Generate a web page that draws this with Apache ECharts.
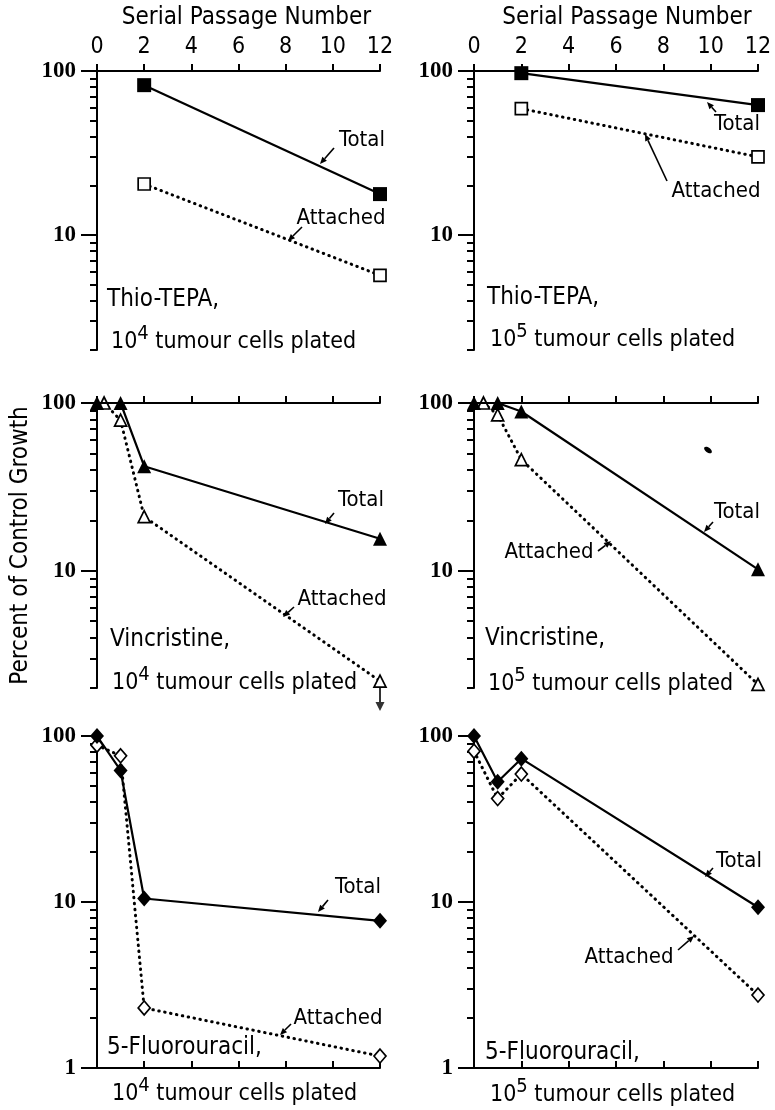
<!DOCTYPE html>
<html>
<head>
<meta charset="utf-8">
<script src="https://cdn.jsdelivr.net/npm/echarts@6/dist/echarts.min.js"></script>
<style>
html, body { margin: 0; padding: 0; background: #fff; }
#chart { width: 775px; height: 1110px; }
</style>
</head>
<body>
<div id="chart"></div>
<script>
// values: percent of control growth vs serial passage number
const passageTicks = [0, 2, 4, 6, 8, 10, 12];
const yMajorTicks = [1, 10, 100];
const yMinorTicks = [2, 3, 4, 5, 6, 7, 8, 9, 20, 30, 40, 50, 60, 70, 80, 90];

const drugNames = ['Thio-TEPA,', 'Thio-TEPA,', 'Vincristine,', 'Vincristine,', '5-Fluorouracil,', '5-Fluorouracil,'];
const cellsExponent = ['4', '5', '4', '5', '4', '5'];

const thio4Total = [[2, 82], [12, 17.8]];
const thio4Attached = [[2, 20.5], [12, 5.7]];
const thio5Total = [[2, 97], [12, 62]];
const thio5Attached = [[2, 59], [12, 30]];
const vinc4Total = [[0, 100], [1, 100], [2, 42], [12, 15.5]];
const vinc4Attached = [[0.3, 100], [1, 79], [2, 21], [12, 2.2]];
const vinc4UpperBound = [[12, 2.2]];
const vinc5Total = [[0, 100], [1, 100], [2, 89], [12, 10.2]];
const vinc5Attached = [[0.4, 100], [1, 85], [2, 46], [12, 2.1]];
const fu4Total = [[0, 100], [1, 62], [2, 10.5], [12, 7.7]];
const fu4Attached = [[0, 88], [1, 76], [2, 2.3], [12, 1.18]];
const fu5Total = [[0, 100], [1, 53], [2, 73], [12, 9.3]];
const fu5Attached = [[0, 81], [1, 42], [2, 59], [12, 2.75]];

const FONT = '"DejaVu Sans Condensed", "DejaVu Sans", sans-serif';
const SERIF = '"Liberation Serif", "DejaVu Serif", serif';

// layout
const cols = [{ left: 97, width: 283 }, { left: 474, width: 284 }];
const rows = [
  { top: 71, height: 279, min: 2 },
  { top: 403, height: 285, min: 2 },
  { top: 736, height: 332, min: 1 }
];
const totals = [thio4Total, thio5Total, vinc4Total, vinc5Total, fu4Total, fu5Total];
const attacheds = [thio4Attached, thio5Attached, vinc4Attached, vinc5Attached, fu4Attached, fu5Attached];
const symbols = ['rect', 'triangle', 'diamond'];
const filledSize = [14, 14, [14, 16]];
const openSize = [12, 12, [12, 14]];

// annotation positions (px)
const totalLabelPos = [[362, 140], [737, 124], [361, 500], [737, 512], [358, 887], [739, 861]];
const attachedLabelPos = [[341, 218], [716, 191], [342, 599], [549, 552], [338, 1018], [629, 957]];
const totalArrows = [[334, 148, 320, 164], [716, 112, 707, 102], [334, 513, 325, 524], [713, 522, 704, 532], [328, 900, 318, 912], [713, 868, 705, 877]];
const attachedArrows = [[302, 227, 288, 241], [667, 181, 645, 134], [294, 607, 283, 617], [598, 551, 611, 541], [291, 1024, 280, 1035], [678, 950, 694, 936]];
const drugLabelPos = [[107, 300], [487, 298], [110, 640], [485, 639], [107, 1048], [485, 1053]];
const platedLabelPos = [[111, 342], [490, 340], [112, 683], [488, 684], [112, 1094], [490, 1095]];

const chart = echarts.init(document.getElementById('chart'));

const grid = [], xAxis = [], yAxis = [], series = [];
for (let i = 0; i < 6; i++) {
  const r = Math.floor(i / 2), c = i % 2;
  const row = rows[r], col = cols[c];
  grid.push({ left: col.left, top: row.top, width: col.width, height: row.height });

  xAxis.push({
    type: 'value', gridIndex: i, position: 'top', min: 0, max: 12, interval: 2,
    name: r === 0 ? 'Serial Passage Number' : '',
    nameLocation: 'middle', nameGap: 41,
    nameTextStyle: { fontFamily: FONT, fontSize: 24, color: '#000', padding: [0, 0, 0, c === 0 ? 16 : 22] },
    axisLine: { lineStyle: { color: '#000', width: 2 } },
    axisTick: { length: 7, lineStyle: { color: '#000', width: 2 } },
    axisLabel: { show: r === 0, margin: 12, fontFamily: FONT, fontSize: 23, color: '#000' },
    splitLine: { show: false }
  });

  const lo = Math.log10(row.min);
  const majors = yMajorTicks.filter(v => v >= row.min).map(v => Math.log10(v));
  const minors = yMinorTicks.filter(v => v >= row.min).map(v => Math.log10(v));
  // data axis (log), hidden
  yAxis.push({ type: 'log', logBase: 10, gridIndex: i, min: row.min, max: 100, show: false });
  // major ticks + labels, drawn in log10 units
  yAxis.push({
    type: 'value', gridIndex: i, position: 'left', min: lo, max: 2,
    name: i === 2 ? 'Percent of Control Growth' : '',
    nameLocation: 'middle', nameGap: 64, nameRotate: 90,
    nameTextStyle: { fontFamily: FONT, fontSize: 24, color: '#000' },
    axisLine: { show: true, lineStyle: { color: '#000', width: 2 } },
    axisTick: { show: true, length: 16, customValues: majors, lineStyle: { color: '#000', width: 2 } },
    axisLabel: {
      show: true, margin: 21, fontFamily: SERIF, fontWeight: 'bold', fontSize: 23, color: '#000',
      customValues: majors,
      formatter: v => String(Math.round(Math.pow(10, v)))
    },
    splitLine: { show: false }
  });
  yAxis.push({
    type: 'value', gridIndex: i, position: 'left', min: lo, max: 2,
    axisLine: { show: false },
    axisTick: { show: true, length: 7, customValues: minors, lineStyle: { color: '#000', width: 2 } },
    axisLabel: { show: false },
    splitLine: { show: false }
  });

  series.push({
    type: 'line', xAxisIndex: i, yAxisIndex: 3 * i, data: attacheds[i], clip: false, silent: true,
    symbol: symbols[r], symbolSize: openSize[r],
    lineStyle: { color: '#000', width: 3, type: [0.5, 5.5], cap: 'round' },
    itemStyle: { color: '#fff', borderColor: '#000', borderWidth: 1.7 },
    z: 3
  });
  series.push({
    type: 'line', xAxisIndex: i, yAxisIndex: 3 * i, data: totals[i], clip: false, silent: true,
    symbol: symbols[r], symbolSize: filledSize[r],
    lineStyle: { color: '#000', width: 2.2 },
    itemStyle: { color: '#000', borderColor: '#000', borderWidth: 0 },
    z: 4
  });
}

// "less than" arrow under the last attached point, vincristine 10^4
series.push({
  type: 'scatter', xAxisIndex: 2, yAxisIndex: 6, data: vinc4UpperBound, clip: false, silent: true,
  symbol: 'path://M3.5,0 L5.5,0 L5.5,15 L9,15 L4.5,24 L0,15 L3.5,15 Z',
  symbolSize: [9, 24], symbolOffset: [0, 18],
  itemStyle: { color: '#000' }, z: 5
});

function arrow(a) {
  const [x1, y1, x2, y2] = a;
  const ang = Math.atan2(y2 - y1, x2 - x1);
  const L = 7, W = 3;
  const bx = x2 - L * Math.cos(ang), by = y2 - L * Math.sin(ang);
  const px = -Math.sin(ang) * W, py = Math.cos(ang) * W;
  return [
    { type: 'line', shape: { x1: x1, y1: y1, x2: bx, y2: by }, style: { stroke: '#000', lineWidth: 1.6 }, silent: true },
    { type: 'polygon', shape: { points: [[x2, y2], [bx + px, by + py], [bx - px, by - py]] }, style: { fill: '#000' }, silent: true }
  ];
}

function label(text, pos, size, align) {
  return {
    type: 'text', x: pos[0], y: pos[1], silent: true,
    style: { text: text, fontFamily: FONT, fontSize: size, fill: '#000', align: align || 'center', verticalAlign: 'middle' }
  };
}

const graphic = [];
for (let i = 0; i < 6; i++) {
  graphic.push(label('Total', totalLabelPos[i], 22));
  graphic.push(label('Attached', attachedLabelPos[i], 22));
  graphic.push(...arrow(totalArrows[i]), ...arrow(attachedArrows[i]));
  graphic.push(label(drugNames[i], drugLabelPos[i], 24, 'left'));
  graphic.push({
    type: 'text', x: platedLabelPos[i][0], y: platedLabelPos[i][1], silent: true,
    style: {
      text: '10{sup|' + cellsExponent[i] + '} tumour cells plated',
      fontFamily: FONT, fontSize: 23, fill: '#000', align: 'left', verticalAlign: 'middle',
      rich: { sup: { fontFamily: FONT, fontSize: 20, fill: '#000', padding: [0, 0, 16, 0] } }
    }
  });
}
// ink blot in the vincristine 10^5 panel
graphic.push({ type: 'ellipse', x: 708, y: 450, rotation: -0.65, shape: { cx: 0, cy: 0, rx: 4.5, ry: 2.5 }, style: { fill: '#000' }, silent: true });

chart.setOption({
  animation: false,
  backgroundColor: '#fff',
  grid: grid,
  xAxis: xAxis,
  yAxis: yAxis,
  series: series,
  graphic: graphic
});
</script>
</body>
</html>
